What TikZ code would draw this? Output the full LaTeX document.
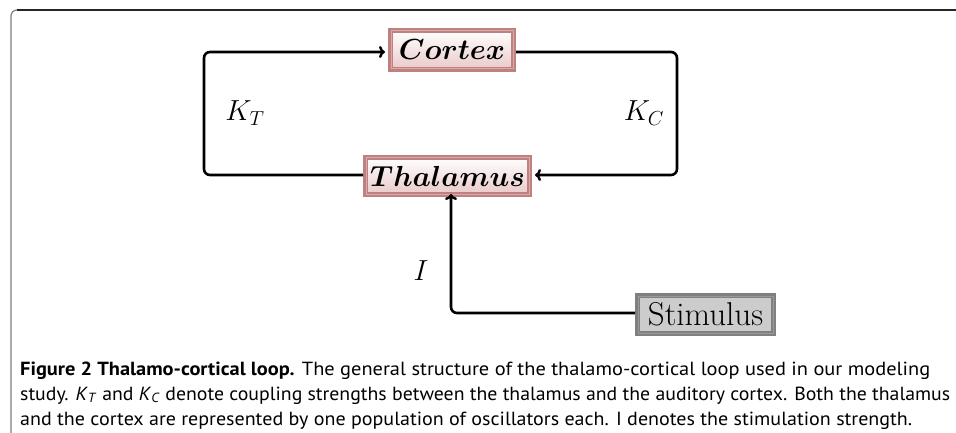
\RequirePackage{fix-cm}
\documentclass[tikz,border=0pt]{standalone}
\usepackage{fontspec}
\usepackage{amsmath,bm}
\usetikzlibrary{arrows.meta,shadings}
\newfontfamily\capfont{PT Sans}
\definecolor{rose}{HTML}{C08080}
\definecolor{roseinner}{HTML}{D9AAAA}
\definecolor{rosefill}{HTML}{E9C9C9}
\definecolor{stimborder}{HTML}{808080}
\definecolor{stimfill}{HTML}{CCCCCC}
\newcommand\fitline[2]{\setbox0\hbox{#2}\pgfmathsetmacro\myfitsf{#1/\the\wd0}\scalebox{\myfitsf}[1]{\box0}}
\begin{document}
\begin{tikzpicture}[x=1pt,y=-1pt,
  region/.style={draw=rose,line width=5pt,top color=white,bottom color=rosefill,
    inner sep=0pt,font=\fontsize{29}{35}\selectfont},
  stimbox/.style={draw=stimborder,line width=5pt,fill=stimfill,inner sep=0pt,
    font=\fontsize{33}{40}\selectfont},
  conn/.style={line width=2.6pt,rounded corners=6pt},
  tip/.style={-{To[length=6pt,width=12pt,line width=2.4pt]}},
  lab/.style={font=\fontsize{29}{35}\selectfont},
  capline/.style={anchor=base west,inner sep=0pt,font=\capfont\fontsize{19}{25}\selectfont}]
\useasboundingbox (0,0) rectangle (956,433);
% frame
\draw[line width=1.2pt,color=black!50,rounded corners=6pt] (11,433) -- (11,10) -- (30,10);
\draw[line width=1.2pt,color=black!85] (17,10) -- (956,10);
% nodes
\node[region,minimum width=123pt,minimum height=39pt] (cortex) at (452,50) {$\bm{Cortex}$};
\node[region,minimum width=164pt,minimum height=37pt] (thal) at (447.5,176) {$\bm{Thalamus}$};
\node[stimbox,minimum width=136pt,minimum height=38pt] (stim) at (705.5,314.5) {Stimulus};
% inner thin highlight
\draw[roseinner,line width=1pt] ([shift={(3pt,3pt)}]cortex.south west) rectangle ([shift={(-3pt,-3pt)}]cortex.north east);
\draw[roseinner,line width=1pt] ([shift={(3pt,3pt)}]thal.south west) rectangle ([shift={(-3pt,-3pt)}]thal.north east);
\draw[black!40,line width=1pt] ([shift={(3pt,3pt)}]stim.south west) rectangle ([shift={(-3pt,-3pt)}]stim.north east);
% connectors
\coordinate (tl) at (204,52);
\coordinate (bl) at (204,175);
\coordinate (tr) at (677,52);
\coordinate (br) at (677,175);
\coordinate (sc) at (451,313);
\draw[conn,tip] (thal.west |- bl) -- (bl) -- (tl) -- ([xshift=-3pt]cortex.west |- tl);
\draw[conn,tip] (cortex.east |- tr) -- (tr) -- (br) -- ([xshift=3pt]thal.east |- br);
\draw[conn,tip] (stim.west |- sc) -- (sc) -- ([yshift=3pt]sc |- thal.south);
% labels
\node[lab] (kt) at (245,113) {$K_T$};
\node[lab] (kc) at (644,113) {$K_C$};
\node[lab] (il) at (421,271) {$I$};
% caption
\node[capline] (c1) at (20,375) {\fitline{910}{\textbf{Figure 2 Thalamo-cortical loop.} The general structure of the thalamo-cortical loop used in our modeling}};
\node[capline] (c2) at (20,400) {\fitline{930}{study. \textit{K}\textsubscript{\textit{T}} and \textit{K}\textsubscript{\textit{C}} denote coupling strengths between the thalamus and the auditory cortex. Both the thalamus}};
\node[capline] (c3) at (20,425) {\fitline{892}{and the cortex are represented by one population of oscillators each. I denotes the stimulation strength.}};
\end{tikzpicture}
\end{document}
